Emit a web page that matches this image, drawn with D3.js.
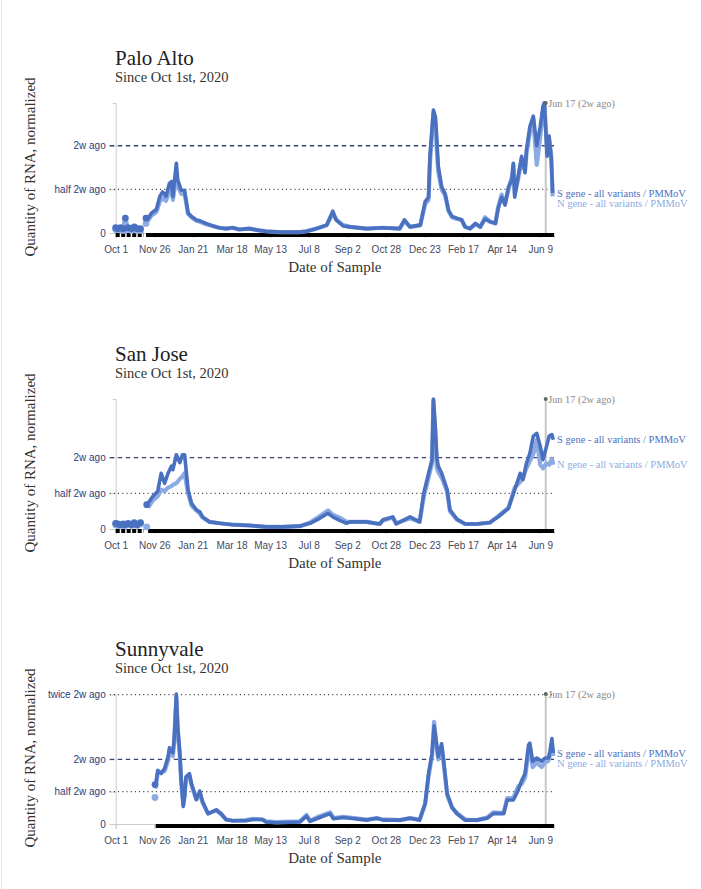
<!DOCTYPE html>
<html lang="en">
<head>
    <meta charset="UTF-8">
    <title>Wastewater RNA</title>
    <script src="https://d3js.org/d3.v7.min.js"></script>
    <style>
        body { margin: 0; background: #ffffff; }
        svg text { font-family: 'Liberation Serif', serif; }
        .tick text { font-family: 'Liberation Sans', Arial, sans-serif; font-size: 10px; }
    </style>
</head>
<body>
    <svg id="chart" width="701" height="889"></svg>
    <script>
        // ---- data (days counted from Oct 1, 2020; values normalized to "2w ago") ----
        const cities = ['Palo Alto', 'San Jose', 'Sunnyvale'];
        const seriesNames = ['S gene - all variants / PMMoV', 'N gene - all variants / PMMoV'];
        const tickOffsets = [0, 56, 112, 168, 224, 280, 336, 392, 448, 504, 560, 616];
        const refValues = [0, 0.5, 1, 2];
        const refLabels = ['0', 'half 2w ago', '2w ago', 'twice 2w ago'];
        const markerDay = 624; // Jun 17, 2022
        const lastDay = 636;

        // Palo Alto
        const paDotDays = [0, 3, 7, 11, 14, 18, 23, 27, 31, 36, 44];
        const paDotS = [0.06, 0.05, 0.06, 0.05, 0.17, 0.06, 0.05, 0.07, 0.05, 0.05, 0.17];
        const paDotN = [0.04, 0.04, 0.04, 0.03, 0.11, 0.04, 0.03, 0.05, 0.03, 0.03, 0.11];
        const paDays = [44, 52, 59, 64, 68, 73, 78, 81, 83, 88, 90, 95, 100, 102, 105, 110, 117, 122, 131, 141,
            150, 160, 170, 179, 194, 208, 218, 237, 267, 277, 291, 306, 315, 320, 330, 340, 364, 388, 412, 419,
            427, 442, 449, 454, 456, 461, 464, 466, 468, 473, 478, 483, 488, 495, 502, 507, 514, 522, 529, 536,
            543, 551, 555, 560, 565, 570, 575, 577, 579, 584, 589, 594, 596, 601, 606, 611, 616, 620, 622, 626,
            629, 632, 634];
        const paS = [0.13, 0.23, 0.27, 0.42, 0.47, 0.42, 0.57, 0.59, 0.42, 0.80, 0.61, 0.49, 0.49, 0.38, 0.23, 0.19, 0.15, 0.14, 0.11, 0.08,
            0.06, 0.05, 0.06, 0.04, 0.05, 0.03, 0.02, 0.01, 0.01, 0.02, 0.05, 0.09, 0.25, 0.15, 0.08, 0.07, 0.05, 0.06, 0.05, 0.15,
            0.07, 0.09, 0.36, 0.41, 0.88, 1.41, 1.33, 1.07, 0.77, 0.53, 0.45, 0.26, 0.19, 0.17, 0.15, 0.07, 0.05, 0.11, 0.07, 0.16,
            0.13, 0.11, 0.28, 0.41, 0.32, 0.53, 0.61, 0.80, 0.41, 0.65, 0.88, 0.69, 0.95, 1.22, 1.34, 1.00, 1.22, 1.45, 1.49, 0.88,
            1.11, 0.85, 0.46];
        const paN = [0.11, 0.20, 0.24, 0.36, 0.40, 0.37, 0.48, 0.50, 0.38, 0.65, 0.55, 0.45, 0.44, 0.36, 0.22, 0.18, 0.14, 0.13, 0.10, 0.08,
            0.06, 0.05, 0.06, 0.04, 0.05, 0.03, 0.02, 0.01, 0.01, 0.02, 0.05, 0.09, 0.22, 0.15, 0.09, 0.07, 0.05, 0.06, 0.05, 0.14,
            0.07, 0.09, 0.33, 0.38, 0.80, 1.36, 1.25, 0.95, 0.70, 0.50, 0.43, 0.25, 0.18, 0.16, 0.15, 0.07, 0.05, 0.10, 0.07, 0.18,
            0.13, 0.11, 0.30, 0.44, 0.34, 0.50, 0.65, 0.78, 0.45, 0.62, 0.84, 0.72, 0.90, 1.15, 1.30, 0.78, 1.10, 1.40, 1.49, 0.95,
            1.05, 0.90, 0.42];

        // San Jose
        const sjDotDays = [0, 3, 7, 11, 14, 18, 23, 27, 31, 36, 45];
        const sjDotS = [0.08, 0.07, 0.06, 0.07, 0.06, 0.08, 0.06, 0.09, 0.06, 0.09, 0.34];
        const sjDotN = [0.06, 0.05, 0.05, 0.05, 0.05, 0.06, 0.05, 0.07, 0.05, 0.07, 0.03];
        const sjDays = [47, 54, 61, 66, 71, 76, 81, 83, 88, 93, 97, 100, 105, 110, 117, 122, 126, 136, 151, 170,
            194, 218, 242, 267, 282, 296, 308, 315, 325, 335, 340, 364, 383, 388, 402, 407, 427, 441, 447, 454,
            459, 461, 464, 466, 468, 473, 481, 485, 495, 507, 524, 543, 555, 570, 579, 587, 591, 596, 601, 606,
            611, 616, 620, 625, 629, 633, 635];
        const sjS = [0.36, 0.46, 0.53, 0.78, 0.64, 0.78, 0.88, 0.83, 1.04, 0.93, 1.04, 1.04, 0.55, 0.36, 0.27, 0.24, 0.17, 0.10, 0.08, 0.06,
            0.05, 0.03, 0.03, 0.04, 0.08, 0.15, 0.22, 0.17, 0.12, 0.08, 0.10, 0.10, 0.07, 0.13, 0.17, 0.07, 0.17, 0.10, 0.50, 0.78,
            0.97, 1.82, 1.40, 1.00, 0.88, 0.78, 0.55, 0.27, 0.14, 0.07, 0.07, 0.09, 0.17, 0.29, 0.55, 0.78, 0.69, 0.92, 1.06, 1.30,
            1.34, 1.16, 0.97, 1.15, 1.30, 1.32, 1.25];
        const sjN = [0.30, 0.40, 0.46, 0.55, 0.53, 0.58, 0.60, 0.62, 0.64, 0.70, 0.74, 0.78, 0.50, 0.33, 0.26, 0.22, 0.16, 0.10, 0.08, 0.06,
            0.05, 0.03, 0.03, 0.04, 0.09, 0.18, 0.26, 0.20, 0.16, 0.10, 0.10, 0.10, 0.07, 0.12, 0.16, 0.08, 0.15, 0.10, 0.45, 0.72,
            0.92, 1.80, 1.25, 0.85, 0.80, 0.72, 0.52, 0.25, 0.13, 0.07, 0.07, 0.09, 0.18, 0.30, 0.58, 0.66, 0.72, 0.85, 0.95, 1.05,
            1.25, 0.90, 0.85, 0.92, 0.90, 0.98, 0.90];

        // Sunnyvale
        const svDotDays = [57];
        const svDotS = [0.61];
        const svDotN = [0.41];
        const svDays = [58, 61, 66, 71, 76, 78, 83, 85, 88, 90, 93, 95, 98, 100, 102, 107, 110, 114, 117, 122,
            126, 134, 146, 153, 160, 170, 189, 199, 213, 218, 233, 267, 277, 282, 296, 311, 316, 330, 340, 364,
            379, 388, 412, 427, 441, 449, 454, 459, 462, 465, 468, 473, 476, 481, 488, 495, 507, 524, 539, 548,
            563, 568, 577, 584, 589, 594, 599, 601, 605, 611, 618, 623, 628, 630, 633, 635];
        const svS = [0.61, 0.83, 0.78, 0.86, 1.04, 1.18, 1.10, 1.34, 2.01, 1.50, 1.11, 0.69, 0.27, 0.42, 0.73, 0.78, 0.62, 0.49, 0.38, 0.51,
            0.35, 0.16, 0.22, 0.16, 0.07, 0.05, 0.05, 0.07, 0.07, 0.03, 0.02, 0.03, 0.12, 0.04, 0.10, 0.16, 0.08, 0.10, 0.09, 0.06,
            0.09, 0.06, 0.06, 0.09, 0.06, 0.32, 0.78, 1.09, 1.52, 1.30, 1.04, 1.24, 0.97, 0.47, 0.26, 0.16, 0.06, 0.06, 0.09, 0.16,
            0.16, 0.37, 0.37, 0.52, 0.67, 0.78, 1.22, 1.25, 0.97, 1.02, 0.97, 1.02, 1.02, 1.12, 1.32, 1.10];
        const svN = [0.55, 0.78, 0.80, 0.82, 0.98, 1.12, 1.05, 1.28, 1.95, 1.45, 1.05, 0.65, 0.30, 0.45, 0.70, 0.74, 0.60, 0.47, 0.38, 0.48,
            0.33, 0.16, 0.21, 0.15, 0.07, 0.05, 0.06, 0.08, 0.07, 0.04, 0.03, 0.04, 0.14, 0.05, 0.12, 0.18, 0.09, 0.11, 0.10, 0.07,
            0.09, 0.07, 0.06, 0.09, 0.07, 0.30, 0.74, 1.05, 1.58, 1.25, 1.00, 1.18, 0.92, 0.45, 0.25, 0.17, 0.07, 0.06, 0.10, 0.18,
            0.17, 0.40, 0.40, 0.58, 0.62, 0.72, 1.10, 1.15, 0.88, 0.95, 0.88, 0.95, 0.98, 1.05, 1.20, 1.05];

        const panels = [
            { name: cities[0], dotDays: paDotDays, dotS: paDotS, dotN: paDotN, days: paDays, s: paS, n: paN },
            { name: cities[1], dotDays: sjDotDays, dotS: sjDotS, dotN: sjDotN, days: sjDays, s: sjS, n: sjN },
            { name: cities[2], dotDays: svDotDays, dotS: svDotS, dotN: svDotN, days: svDays, s: svS, n: svN }
        ];

        // ---- layout ----
        const start = new Date(2020, 9, 1);
        const toDate = d => d3.timeDay.offset(start, d);
        const plotLeft = 115.7, plotRight = 554;
        const plotTops = [103, 399, 694];
        const plotHeight = 130;
        const sColor = '#4a70c0';
        const nColor = '#8dabe3';

        const svg = d3.select('#chart');
        svg.append('rect').attr('width', 701).attr('height', 889).attr('fill', '#fff');
        svg.append('line')
            .attr('x1', 1.5).attr('x2', 1.5).attr('y1', 0).attr('y2', 889)
            .attr('stroke', '#e3e3e3').attr('stroke-width', 1);

        const x = d3.scaleTime()
            .domain([start, toDate(lastDay)])
            .range([plotLeft, plotRight]);

        panels.forEach((p, i) => {
            const top = plotTops[i];
            const zero = top + plotHeight;
            const maxVal = d3.max(p.s.concat(p.n, p.dotS, p.dotN));
            const y = d3.scaleLinear().domain([0, maxVal]).range([zero, top]);
            const g = svg.append('g');

            // titles
            g.append('text').attr('x', 115).attr('y', top - 38)
                .attr('font-size', 21).attr('fill', '#222').text(p.name);
            g.append('text').attr('x', 115).attr('y', top - 21)
                .attr('font-size', 14.5).attr('fill', '#333').text('Since Oct 1st, 2020');

            // y axis title
            g.append('text')
                .attr('transform', `translate(35,${(top + zero) / 2 - 1}) rotate(-90)`)
                .attr('text-anchor', 'middle')
                .attr('font-size', 15).attr('fill', '#333')
                .text('Quantity of RNA, normalized');

            // x axis title
            g.append('text').attr('x', (plotLeft + plotRight) / 2).attr('y', zero + 39)
                .attr('text-anchor', 'middle')
                .attr('font-size', 15).attr('fill', '#333')
                .text('Date of Sample');

            // y axis
            const ticksShown = refValues.filter(v => v <= maxVal);
            const yAxis = d3.axisLeft(y)
                .tickValues(ticksShown)
                .tickFormat(v => refLabels[refValues.indexOf(v)])
                .tickSize(6).tickSizeOuter(3).tickPadding(4);
            const ya = g.append('g').attr('transform', `translate(${plotLeft},0)`).call(yAxis);
            ya.selectAll('path, line').attr('stroke', '#cccccc');
            ya.selectAll('text').attr('fill', '#2d3b78');

            // x axis
            const xAxis = d3.axisBottom(x)
                .tickValues(tickOffsets.map(toDate))
                .tickFormat(d3.timeFormat('%b %-d'))
                .tickSize(5).tickSizeOuter(5).tickPadding(8);
            const xa = g.append('g').attr('transform', `translate(0,${zero})`).call(xAxis);
            xa.selectAll('path, line').attr('stroke', '#cccccc');
            xa.selectAll('text').attr('fill', '#444a5e');

            // reference lines
            ticksShown.filter(v => v > 0).forEach(v => {
                g.append('line')
                    .attr('x1', plotLeft - 6).attr('x2', plotRight)
                    .attr('y1', y(v)).attr('y2', y(v))
                    .attr('stroke', v === 1 ? '#3b4778' : '#333')
                    .attr('stroke-width', v === 1 ? 1.3 : 1.2)
                    .attr('stroke-dasharray', v === 1 ? '4.5,3.5' : '1,3.2');
            });

            // sample bar along zero
            if (p.dotDays.length > 1) {
                g.append('line')
                    .attr('x1', x(toDate(p.dotDays[0]))).attr('x2', x(toDate(p.dotDays[p.dotDays.length - 2])) + 3)
                    .attr('y1', zero + 2).attr('y2', zero + 2)
                    .attr('stroke', '#000').attr('stroke-width', 4)
                    .attr('stroke-dasharray', '4,1.5');
            }
            g.append('line')
                .attr('x1', x(toDate(p.days[0]))).attr('x2', plotRight)
                .attr('y1', zero + 2).attr('y2', zero + 2)
                .attr('stroke', '#000').attr('stroke-width', 4);

            // 2w ago marker
            const mx = x(toDate(markerDay));
            g.append('line').attr('x1', mx).attr('x2', mx).attr('y1', top).attr('y2', zero)
                .attr('stroke', '#c6c6c6').attr('stroke-width', 2);

            // lines
            const line = d3.line()
                .x(d => x(toDate(d[0])))
                .y(d => y(d[1]));
            const nPts = p.days.map((d, k) => [d, p.n[k]]);
            const sPts = p.days.map((d, k) => [d, p.s[k]]);
            g.append('path').datum(nPts).attr('d', line)
                .attr('fill', 'none').attr('stroke', nColor).attr('stroke-width', 4.2)
                .attr('stroke-linejoin', 'round');
            g.append('path').datum(sPts).attr('d', line)
                .attr('fill', 'none').attr('stroke', sColor).attr('stroke-width', 3.6)
                .attr('stroke-linejoin', 'round');

            // early sparse samples
            g.selectAll('circle.n').data(p.dotDays.map((d, k) => [d, p.dotN[k]])).enter()
                .append('circle').attr('class', 'n')
                .attr('cx', d => x(toDate(d[0]))).attr('cy', d => y(d[1]))
                .attr('r', 3.4).attr('fill', nColor);
            g.selectAll('circle.s').data(p.dotDays.map((d, k) => [d, p.dotS[k]])).enter()
                .append('circle').attr('class', 's')
                .attr('cx', d => x(toDate(d[0]))).attr('cy', d => y(d[1]))
                .attr('r', 3.4).attr('fill', sColor);

            g.append('circle').attr('cx', mx).attr('cy', top).attr('r', 2).attr('fill', '#666');
            g.append('text').attr('x', mx + 2.5).attr('y', top).attr('dy', '0.35em')
                .attr('font-size', 10.3).attr('fill', '#888').text('Jun 17 (2w ago)');

            // end labels, pushed apart
            let ys = y(p.s[p.s.length - 1]);
            let yn = y(p.n[p.n.length - 1]);
            if (yn >= ys) yn = Math.max(yn, ys + 10); else ys = Math.max(ys, yn + 10);
            g.append('text').attr('x', plotRight + 3).attr('y', ys).attr('dy', '0.35em')
                .attr('font-size', 10.5).attr('fill', sColor).text(seriesNames[0]);
            g.append('text').attr('x', plotRight + 3).attr('y', yn).attr('dy', '0.35em')
                .attr('font-size', 10.5).attr('fill', nColor).text(seriesNames[1]);
        });
    </script>
</body>
</html>
